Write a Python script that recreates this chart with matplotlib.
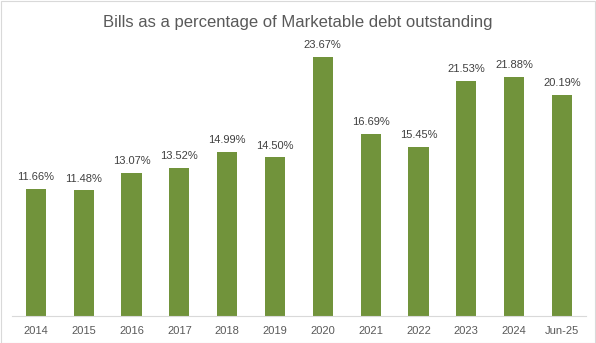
import matplotlib

matplotlib.use("Agg")
import matplotlib.pyplot as plt
from matplotlib.patches import Rectangle

categories = ["2014", "2015", "2016", "2017", "2018", "2019", "2020",
              "2021", "2022", "2023", "2024", "Jun-25"]
bill_share = [11.66, 11.48, 13.07, 13.52, 14.99, 14.50, 23.67,
              16.69, 15.45, 21.53, 21.88, 20.19]

plt.rcParams["font.family"] = ["Liberation Sans", "DejaVu Sans"]

fig = plt.figure(figsize=(5.96, 3.43), dpi=100)
ax = fig.add_axes([0.020, 0.0787, 0.963, 0.797])

x = range(len(categories))
bars = ax.bar(x, bill_share, width=0.42, color="#71933B")
for rect, val in zip(bars, bill_share):
    ax.annotate(f"{val:.2f}%", (rect.get_x() + rect.get_width() / 2, val),
                xytext=(0, 5), textcoords="offset points",
                ha="center", va="bottom", fontsize=8, color="#404040")

ax.set_xlim(-0.5, len(categories) - 0.5)
ax.set_ylim(0, 25)
ax.set_xticks(list(x), categories, fontsize=8, color="#595959")
ax.tick_params(axis="x", length=0, pad=7)
ax.set_yticks([])
for side in ["top", "right", "left"]:
    ax.spines[side].set_visible(False)
ax.spines["bottom"].set_color("#D9D9D9")

fig.text(0.5, 0.935, "Bills as a percentage of Marketable debt outstanding",
         ha="center", va="center", fontsize=12, color="#595959")
fig.patches.append(Rectangle((0.001, 0.001), 0.997, 0.997, transform=fig.transFigure,
                             fill=False, edgecolor="#D9D9D9", linewidth=0.8))

fig.savefig("out.png", dpi=100, facecolor="white")
